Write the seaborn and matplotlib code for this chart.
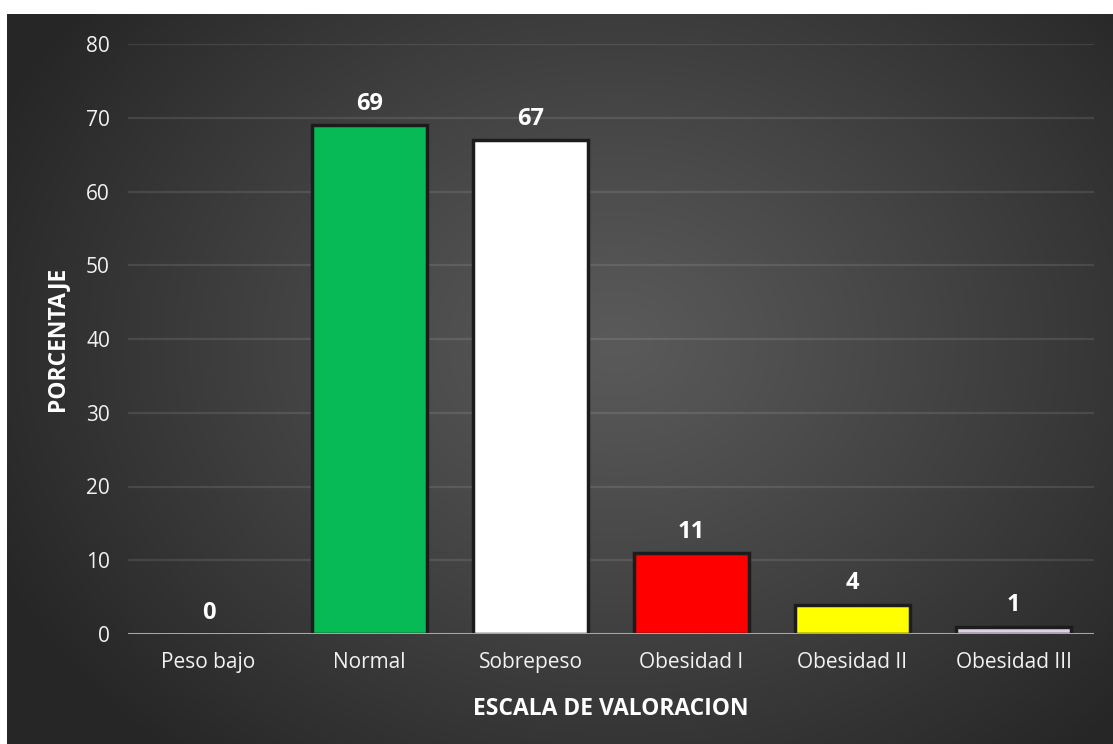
import numpy as np
import pandas as pd
import matplotlib
matplotlib.use("Agg")
import matplotlib.pyplot as plt
import seaborn as sns

categories = ["Peso bajo", "Normal", "Sobrepeso", "Obesidad I", "Obesidad II", "Obesidad III"]
values = [0, 69, 67, 11, 4, 1]
bar_colors = ["#7f7f7f", "#07BA55", "#FFFFFF", "#FF0000", "#FFFF00", "#DCD2E8"]
y_ticks = [0, 10, 20, 30, 40, 50, 60, 70, 80]

sns.set_theme(style="dark")
plt.rcParams['font.family'] = ['Open Sans', 'DejaVu Sans']

W, H = 1113, 744
fig = plt.figure(figsize=(W / 100, H / 100), dpi=100)
fig.patch.set_facecolor("white")

# background radial gradient panel
bg = fig.add_axes([7 / W, 0, (W - 7) / W, (H - 14) / H])
bg.set_axis_off()
ny, nx = 400, 600
yy, xx = np.mgrid[0:ny, 0:nx]
cx, cy = nx * 0.55, ny * 0.45
d = np.sqrt(((xx - cx) / (nx * 0.62)) ** 2 + ((yy - cy) / (ny * 0.75)) ** 2)
d = np.clip(d, 0, 1)
inner, outer = 0x5a / 255, 0x26 / 255
g = inner + (outer - inner) * d ** 1.1
img = np.dstack([g, g, g])
bg.imshow(img, aspect="auto", extent=[0, 1, 0, 1], interpolation="bilinear")
bg.set_xlim(0, 1)
bg.set_ylim(0, 1)

ax = fig.add_axes([128 / W, 1 - 634 / H, (1094 - 128) / W, (634 - 44) / H])
ax.patch.set_alpha(0)

df = pd.DataFrame({"cat": categories, "val": values})
sns.barplot(data=df, x="cat", y="val", hue="cat", palette=bar_colors, legend=False,
            saturation=1, width=0.71, edgecolor="#1c1c1c", linewidth=2.5, ax=ax, zorder=3)

ax.set_ylim(0, 80)
ax.set_yticks(y_ticks)
ax.set_xlim(-0.5, len(categories) - 0.5)
ax.yaxis.grid(True, color="#ffffff", alpha=0.10, linewidth=1.6, zorder=0)
ax.xaxis.grid(False)
for s in ax.spines.values():
    s.set_visible(False)
ax.axhline(0, color="#a6a6a6", linewidth=2.2, zorder=4)

ax.tick_params(axis="both", length=0, colors="white", labelsize=15)
ax.tick_params(axis="y", pad=13)
ax.tick_params(axis="x", pad=13)
for lab in ax.get_xticklabels() + ax.get_yticklabels():
    lab.set_color("#f2f2f2")

ax.set_xlabel("ESCALA DE VALORACION", color="white", fontsize=16.5, fontweight="bold", labelpad=17)
ax.set_ylabel("PORCENTAJE", color="white", fontsize=16.5, fontweight="bold", labelpad=12)

for i, v in enumerate(values):
    ax.annotate(f"{v}", xy=(i, v), xytext=(0, 11), textcoords="offset points",
                ha="center", va="baseline", color="white", fontsize=17, fontweight="bold", zorder=5)

fig.savefig("out.png", dpi=100, facecolor=fig.get_facecolor())
